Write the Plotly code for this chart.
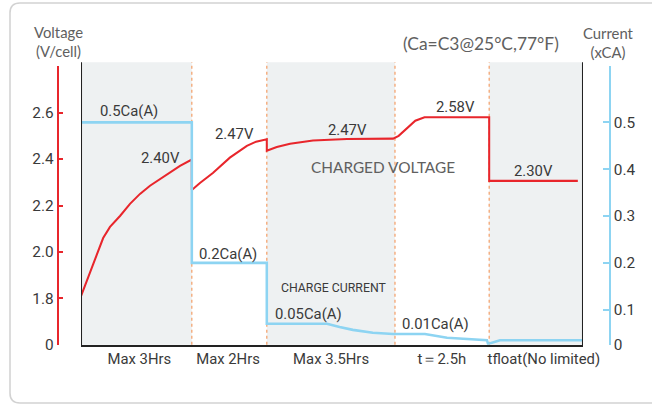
import plotly.graph_objects as go

# reference canvas (design coordinates) and the photographed scale factor
RW, RH = 652, 404
K = 668 / 652          # the photo is downscaled by 652/668; draw slightly larger
W, H = round(RW * K), round(RH * K)

# ---------------- data ----------------
# charging phases (time axis in hours)
phase_bounds = [0, 3.0, 5.03, 8.5, 11.05, 13.59]
phase_labels = ["Max 3Hrs", "Max 2Hrs", "Max 3.5Hrs", "t＝2.5h", "tfloat(No limited)"]
phase_label_pos = [1.58, 3.98, 6.77, 9.77, 12.53]
shaded_phases = [0, 2, 4]

# charged voltage (V/cell)
volt_t = [0.0, 0.244, 0.46, 0.6, 0.785, 1.056, 1.326, 1.597, 1.868, 2.14,
          2.41, 2.68, 3.0,
          3.0, 3.22, 3.57, 4.03, 4.49, 4.74, 5.03,
          5.03, 5.3, 5.66, 6.28, 7.2, 8.45,
          8.6, 8.85, 9.05, 9.3, 11.05,
          11.05, 13.45]
volt_v = [1.81, 1.909, 2.004, 2.06, 2.108, 2.155, 2.207, 2.25, 2.285, 2.315,
          2.343, 2.371, 2.398,
          2.267, 2.297, 2.34, 2.406, 2.457, 2.475, 2.485,
          2.436, 2.452, 2.466, 2.480, 2.486, 2.488,
          2.50, 2.535, 2.565, 2.58, 2.58,
          2.306, 2.306]

# charge current (xCA, axis units)
curr_t = [0.0, 3.0, 3.0, 5.03, 5.03, 6.66, 7.0, 7.36, 7.9, 8.45, 9.31,
          9.91, 10.99, 11.02, 11.34, 13.59]
curr_v = [0.5, 0.5, 0.2, 0.2, 0.07, 0.07, 0.063, 0.057, 0.051, 0.048, 0.048,
          0.040, 0.035, 0.027, 0.035, 0.035]

volt_ticks = [1.6, 1.8, 2.0, 2.2, 2.4, 2.6, 2.8]
volt_ticktext = ["0", "1.8", "2.0", "2.2", "2.4", "2.6", ""]
curr_ticks = [0.025, 0.1, 0.2, 0.3, 0.4, 0.5, 0.62]
curr_ticktext = ["0", "0.1", "0.2", "0.3", "0.4", "0.5", ""]

# ---------------- style ----------------
RED = "#E8262C"
BLUE = "#8DD4F2"
BAND = "#EEF1F2"
ORANGE = "#F4A06A"
TXT = "#3a3a3a"
TITLE = "#606060"
NARROW = "Roboto, Liberation Sans, sans-serif"
GEO = "Lato, Open Sans, sans-serif"


def px(x):
    return x / RW


def py(y):
    return 1 - y / RH


def sz(v):
    return v * K


fig = go.Figure()
fig.add_trace(go.Scatter(x=volt_t, y=volt_v, mode="lines", yaxis="y",
                         line=dict(color=RED, width=sz(2)), hoverinfo="skip",
                         showlegend=False))
fig.add_trace(go.Scatter(x=curr_t, y=curr_v, mode="lines", yaxis="y2",
                         line=dict(color=BLUE, width=sz(2.5)), hoverinfo="skip",
                         showlegend=False))

shapes = []
# shaded phase bands
for i in shaded_phases:
    shapes.append(dict(type="rect", xref="x", yref="paper",
                       x0=phase_bounds[i], x1=phase_bounds[i + 1],
                       y0=py(344), y1=py(62), fillcolor=BAND,
                       line=dict(width=0), layer="below"))
# dotted phase separators
for b in phase_bounds[1:-1]:
    shapes.append(dict(type="line", xref="x", yref="paper", x0=b, x1=b,
                       y0=py(344), y1=py(62),
                       line=dict(color=ORANGE, width=sz(1.2), dash="dot"),
                       layer="below"))
# black frame sides
for b in (phase_bounds[0], phase_bounds[-1]):
    shapes.append(dict(type="line", xref="x", yref="paper", x0=b, x1=b,
                       y0=py(345), y1=py(62),
                       line=dict(color="#222222", width=sz(2))))

# card border (rounded, open to the right)
pts = [("M", 652, 3), ("L", 20, 3), ("Q", 10, 3, 10, 13), ("L", 10, 392),
       ("Q", 10, 402, 20, 402), ("L", 652, 402)]
path = ""
for p in pts:
    if p[0] == "Q":
        path += f"Q {px(p[1])},{py(p[2])} {px(p[3])},{py(p[4])} "
    else:
        path += f"{p[0]} {px(p[1])},{py(p[2])} "
shapes.append(dict(type="path", xref="paper", yref="paper", path=path,
                   line=dict(color="#D2D2D2", width=sz(1.5))))

annotations = []


def label(text, x, y, size=14.5, family=NARROW, color=TXT):
    annotations.append(dict(text=text, x=px(x), y=py(y), xref="paper",
                            yref="paper", showarrow=False, xanchor="center",
                            yanchor="middle",
                            font=dict(family=family, size=sz(size), color=color)))


label("Voltage<br>(V/cell)", 58, 41, size=14.5, family=GEO, color=TITLE)
label("Current<br>(xCA)", 608, 42, size=14.5, family=GEO, color=TITLE)
label("(Ca=C3@25°C,77°F)", 481, 43, size=17, family=GEO, color=TITLE)
label("0.5Ca(A)", 129, 111)
label("2.40V", 160, 158)
label("2.47V", 235, 134)
label("2.47V", 347, 130)
label("CHARGED VOLTAGE", 383, 167, size=15, family=GEO, color=TITLE)
label("2.58V", 455, 107)
label("2.30V", 533, 171)
label("0.2Ca(A)", 228, 253)
label("CHARGE CURRENT", 333, 287, size=12)
label("0.05Ca(A)", 308, 313)
label("0.01Ca(A)", 435, 323)

fig.update_layout(
    width=W, height=H,
    margin=dict(l=0, r=0, t=0, b=0, pad=0),
    paper_bgcolor="white", plot_bgcolor="white",
    shapes=shapes, annotations=annotations,
    xaxis=dict(domain=[px(81), px(583)], range=[phase_bounds[0], phase_bounds[-1]],
               showgrid=False, zeroline=False, showline=True,
               linecolor="#222222", linewidth=sz(2), ticks="",
               tickvals=phase_label_pos, ticktext=phase_labels,
               tickfont=dict(family=NARROW, size=sz(14.5), color=TXT),
               ticklabelstandoff=-1,
               fixedrange=True),
    yaxis=dict(domain=[py(344), py(66)], range=[1.6, 2.8],
               anchor="free", position=px(57.5),
               showgrid=False, zeroline=False, showline=True,
               linecolor=RED, linewidth=sz(1.5), ticks="inside", ticklen=round(sz(5)),
               tickcolor=RED, tickwidth=sz(1.5),
               tickvals=volt_ticks, ticktext=volt_ticktext,
               tickfont=dict(family=NARROW, size=sz(15), color=TXT),
               fixedrange=True),
    yaxis2=dict(range=[0.025, 0.62], overlaying="y", side="right",
                anchor="free", position=px(610),
                showgrid=False, zeroline=False, showline=True,
                linecolor=BLUE, linewidth=sz(1.5), ticks="inside", ticklen=round(sz(6)),
                tickcolor=BLUE, tickwidth=sz(1.5),
                tickvals=curr_ticks, ticktext=curr_ticktext,
                tickfont=dict(family=NARROW, size=sz(15), color=TXT),
                fixedrange=True),
)

fig.write_html(
    "out.html", config={"displayModeBar": False},
    post_script="document.body.style.margin='0';",
)
